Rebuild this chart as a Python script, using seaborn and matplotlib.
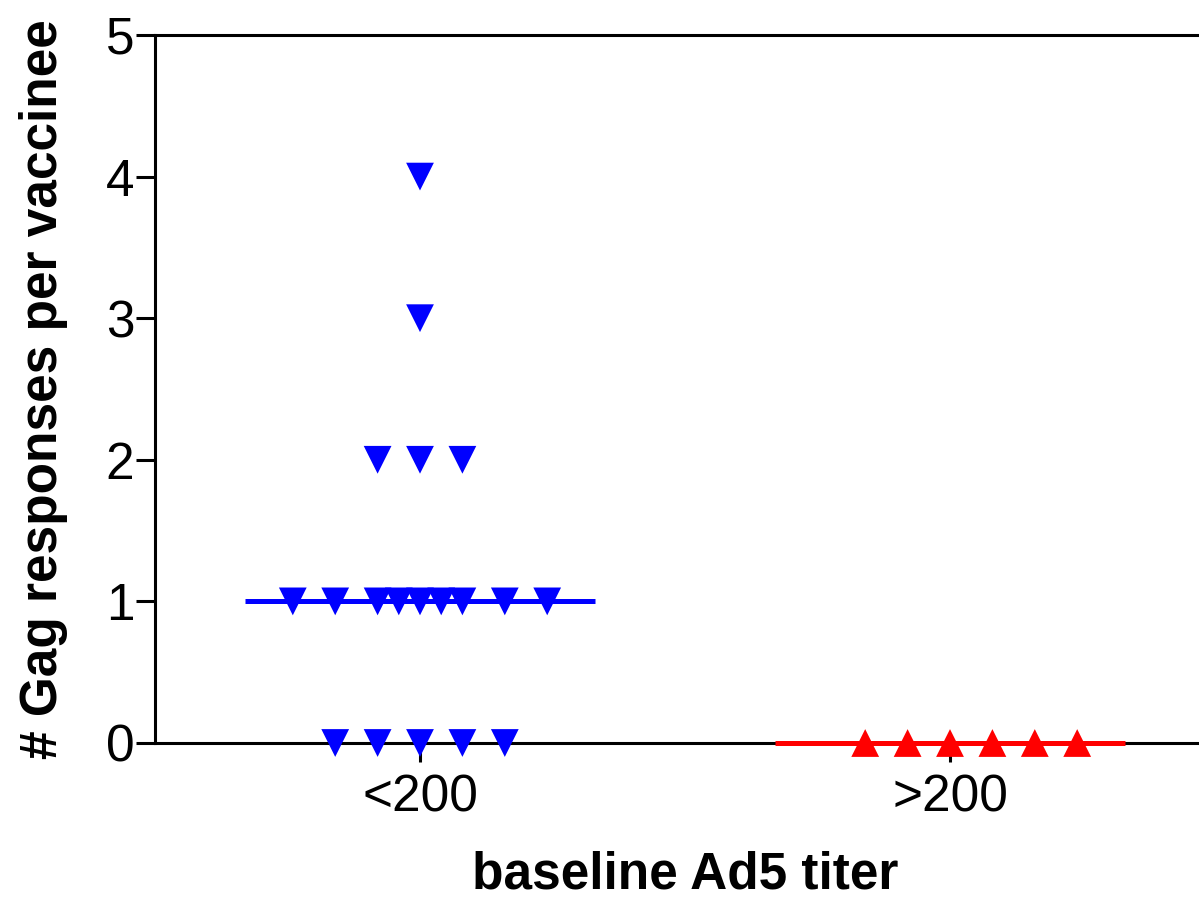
import numpy as np
import pandas as pd
import matplotlib
matplotlib.use("Agg")
import matplotlib.pyplot as plt
import seaborn as sns

# Responses per vaccinee, by baseline Ad5 titer group
groups = ["<200", ">200"]
low_titer = [4, 3, 2, 2, 2, 1, 1, 1, 1, 1, 1, 1, 1, 1, 0, 0, 0, 0, 0]
high_titer = [0, 0, 0, 0, 0, 0]
y_ticks = [0, 1, 2, 3, 4, 5]
x_label = "baseline Ad5 titer"
y_label = "# Gag responses per vaccinee"

sns.set_theme(style="ticks")
plt.rcParams["font.family"] = ["Liberation Sans", "DejaVu Sans"]
plt.rcParams["text.color"] = "black"
plt.rcParams["axes.labelcolor"] = "black"


def spread(n, step=0.08, cap=0.24):
    """Horizontal offsets for n tied points: grid slots outward from the
    centre (right side first), then half-step slots near the centre."""
    slots = [0.0]
    k = 1
    while k * step <= cap + 1e-9:
        slots += [k * step, -k * step]
        k += 1
    if n <= len(slots):
        return sorted(slots[:n])
    extra = []
    k = 0
    while len(slots) + len(extra) < n:
        extra += [(k + 0.5) * step, -(k + 0.5) * step]
        k += 1
    return sorted(slots + extra[: n - len(slots)])


rows = []
for gi, (g, vals) in enumerate(zip(groups, [low_titer, high_titer])):
    vals = np.asarray(vals)
    for v in sorted(set(vals), reverse=True):
        n = int((vals == v).sum())
        for off in spread(n):
            rows.append({"group": g, "value": v, "pos": gi + off})
df = pd.DataFrame(rows)

fig = plt.figure(figsize=(11.99, 9.08), dpi=100)
ax = fig.add_axes([155 / 1199, 165 / 908, 1060 / 1199, 708 / 908])

palette = {"<200": "#0000ff", ">200": "#ff0000"}
markers = {"<200": "v", ">200": "^"}

sns.scatterplot(data=df, x="pos", y="value", hue="group", style="group",
                palette=palette, markers=markers, s=400, linewidth=0,
                legend=False, ax=ax, zorder=5, clip_on=False)

# Median bars
for gi, (g, vals) in enumerate(zip(groups, [low_titer, high_titer])):
    med = np.median(vals)
    ax.hlines(med, gi - 0.33, gi + 0.33, color=palette[g], lw=3.6,
              zorder=4, clip_on=False)

ax.set_xlim(-0.5, 1.5)
ax.set_ylim(0, 5)
ax.set_xticks([0, 1])
ax.set_xticklabels(groups)
ax.set_yticks(y_ticks)
ax.set_yticklabels([str(t) for t in y_ticks])

ax.spines["right"].set_visible(False)
ax.spines["top"].set_visible(True)
for s in ["left", "bottom", "top"]:
    ax.spines[s].set_linewidth(2.2)
    ax.spines[s].set_color("black")
    ax.spines[s].set_zorder(3)

ax.tick_params(axis="y", length=14, width=2.2, pad=1, labelsize=37,
               colors="black")
ax.tick_params(axis="x", length=14, width=2.2, pad=8, labelsize=37,
               colors="black")

ax.set_xlabel(x_label, fontsize=37, fontweight="bold", labelpad=20,
              color="black")
ax.set_ylabel(y_label, fontsize=37, fontweight="bold", labelpad=27,
              color="black")

fig.savefig("out.png", dpi=100)
